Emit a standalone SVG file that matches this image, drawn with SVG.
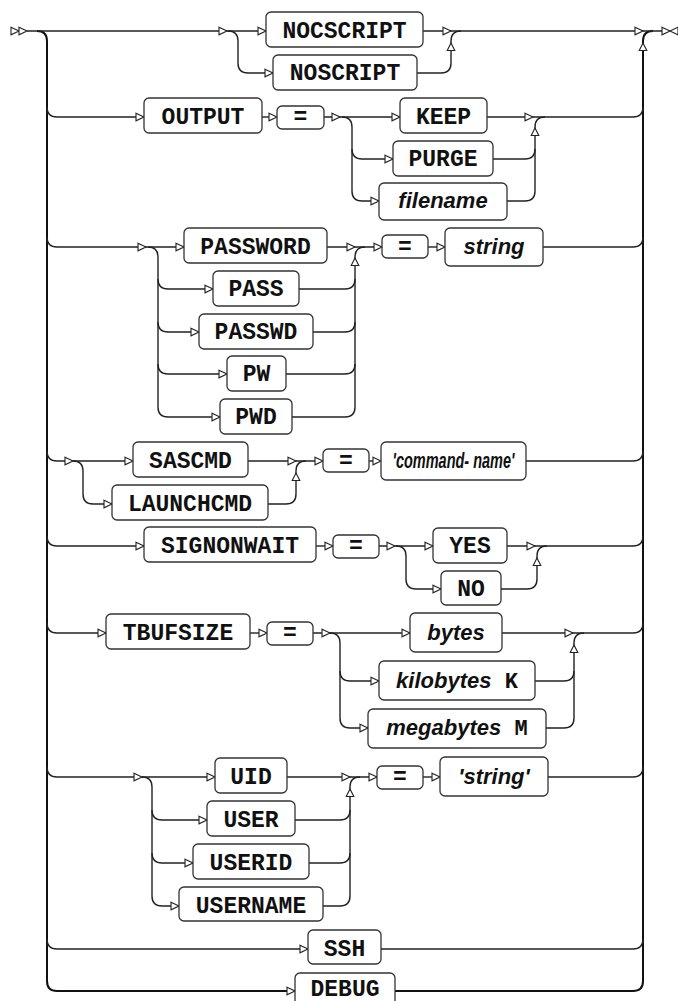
<svg xmlns="http://www.w3.org/2000/svg" xmlns:xlink="http://www.w3.org/1999/xlink" width="678" height="1001" viewBox="0 0 678 1001">
<style>
.c{fill:none;stroke:#222;stroke-width:1.4}
.t{fill:none;stroke:#111;stroke-width:2}
.b{fill:#fff;stroke:#333;stroke-width:1.3}
.k{font-family:"Liberation Mono","Courier New",monospace;font-weight:bold;font-size:23px;fill:#111;text-anchor:middle}
.v{font-family:"Liberation Sans",Arial,sans-serif;font-weight:bold;font-style:italic;font-size:22px;fill:#111;text-anchor:middle}
.m{font-family:"Liberation Mono","Courier New",monospace;font-weight:bold;font-style:normal}
.a{fill:#fff;stroke:#222;stroke-width:1.1}
</style>
<defs>
<path id="ar" class="a" d="M-8,-3.8 L0,0 L-8,3.8 Z"/>
<path id="au" class="a" d="M-3.8,7.5 L0,0 L3.8,7.5 Z"/>
<path id="al" class="a" d="M8,-3.8 L0,0 L8,3.8 Z"/>
</defs>
<g id="connectors">
<path class="t" d="M37,31 Q47,31 47,41 V981 Q47,991 57,991 H295"/>
<path class="t" d="M395,991 H633 Q643,991 643,981 V41 Q643,31 653,31"/>
<path class="c" d="M27,31 H266"/>
<path class="c" d="M228,31 Q238,31 238,41 V63 Q238,73 248,73 H273"/>
<path class="c" d="M423,31 H662"/>
<path class="c" d="M417,73 H441 Q451,73 451,63 V41 Q451,31 461,31"/>
<path class="c" d="M47,107 Q47,117 57,117 H144"/>
<path class="c" d="M262,117 H277"/>
<path class="c" d="M324,117 H400"/>
<path class="c" d="M342,117 Q352,117 352,127 V191 Q352,201 362,201 H379"/>
<path class="c" d="M352,149 Q352,159 362,159 H393"/>
<path class="c" d="M487,117 H633 Q643,117 643,107"/>
<path class="c" d="M493,159 H525 Q535,159 535,149"/>
<path class="c" d="M507,201 H525 Q535,201 535,191 V127 Q535,117 545,117"/>
<path class="c" d="M47,237 Q47,247 57,247 H184"/>
<path class="c" d="M148,247 Q158,247 158,257 V407 Q158,417 168,417 H220"/>
<path class="c" d="M158,279 Q158,289 168,289 H213"/>
<path class="c" d="M158,322 Q158,332 168,332 H199"/>
<path class="c" d="M158,364 Q158,374 168,374 H227"/>
<path class="c" d="M327,247 H382"/>
<path class="c" d="M428,247 H445"/>
<path class="c" d="M543,247 H633 Q643,247 643,237"/>
<path class="c" d="M299,289 H345 Q355,289 355,279"/>
<path class="c" d="M313,332 H345 Q355,332 355,322"/>
<path class="c" d="M286,374 H345 Q355,374 355,364"/>
<path class="c" d="M292,417 H345 Q355,417 355,407 V257 Q355,247 365,247"/>
<path class="c" d="M47,451 Q47,461 57,461 H133"/>
<path class="c" d="M73,461 Q83,461 83,471 V494 Q83,504 93,504 H112"/>
<path class="c" d="M248,461 H323"/>
<path class="c" d="M268,504 H286 Q296,504 296,494 V471 Q296,461 306,461"/>
<path class="c" d="M369,461 H381"/>
<path class="c" d="M526,461 H633 Q643,461 643,451"/>
<path class="c" d="M47,536 Q47,546 57,546 H144"/>
<path class="c" d="M316,546 H333"/>
<path class="c" d="M379,546 H433"/>
<path class="c" d="M396,546 Q406,546 406,556 V579 Q406,589 416,589 H441"/>
<path class="c" d="M507,546 H633 Q643,546 643,536"/>
<path class="c" d="M501,589 H527 Q537,589 537,579 V556 Q537,546 547,546"/>
<path class="c" d="M47,623 Q47,633 57,633 H106"/>
<path class="c" d="M250,633 H267"/>
<path class="c" d="M313,633 H410"/>
<path class="c" d="M330,633 Q340,633 340,643 V718 Q340,728 350,728 H368"/>
<path class="c" d="M340,671 Q340,681 350,681 H379"/>
<path class="c" d="M502,633 H633 Q643,633 643,623"/>
<path class="c" d="M535,681 H564 Q574,681 574,671"/>
<path class="c" d="M546,728 H564 Q574,728 574,718 V643 Q574,633 584,633"/>
<path class="c" d="M47,767 Q47,777 57,777 H215"/>
<path class="c" d="M142,777 Q152,777 152,787 V896 Q152,906 162,906 H179"/>
<path class="c" d="M152,810 Q152,820 162,820 H207"/>
<path class="c" d="M152,853 Q152,863 162,863 H193"/>
<path class="c" d="M287,777 H377"/>
<path class="c" d="M423,777 H440"/>
<path class="c" d="M548,777 H633 Q643,777 643,767"/>
<path class="c" d="M295,820 H340 Q350,820 350,810"/>
<path class="c" d="M309,863 H340 Q350,863 350,853"/>
<path class="c" d="M323,906 H340 Q350,906 350,896 V787 Q350,777 360,777"/>
<path class="c" d="M47,939 Q47,949 57,949 H308"/>
<path class="c" d="M381,949 H633 Q643,949 643,939"/>
</g>
<g id="arrows">
<use xlink:href="#ar" x="19" y="31"/><use xlink:href="#ar" x="27" y="31"/>
<use xlink:href="#ar" x="670" y="31"/><use xlink:href="#al" x="670" y="31"/>
<use xlink:href="#ar" x="227" y="31"/><use xlink:href="#ar" x="266" y="31"/><use xlink:href="#ar" x="273" y="73"/>
<use xlink:href="#ar" x="451" y="31"/><use xlink:href="#au" x="451" y="43"/>
<use xlink:href="#ar" x="643" y="31"/><use xlink:href="#au" x="643" y="43"/>
<use xlink:href="#ar" x="144" y="117"/><use xlink:href="#ar" x="277" y="117"/><use xlink:href="#ar" x="340" y="117"/>
<use xlink:href="#ar" x="400" y="117"/><use xlink:href="#ar" x="393" y="159"/><use xlink:href="#ar" x="379" y="201"/>
<use xlink:href="#ar" x="533" y="117"/><use xlink:href="#au" x="535" y="128"/>
<use xlink:href="#ar" x="146" y="247"/><use xlink:href="#ar" x="184" y="247"/><use xlink:href="#ar" x="213" y="289"/>
<use xlink:href="#ar" x="199" y="332"/><use xlink:href="#ar" x="227" y="374"/><use xlink:href="#ar" x="220" y="417"/>
<use xlink:href="#ar" x="355" y="247"/><use xlink:href="#au" x="355" y="258"/><use xlink:href="#ar" x="382" y="247"/><use xlink:href="#ar" x="445" y="247"/>
<use xlink:href="#ar" x="73" y="461"/><use xlink:href="#ar" x="133" y="461"/><use xlink:href="#ar" x="112" y="504"/>
<use xlink:href="#ar" x="296" y="461"/><use xlink:href="#au" x="296" y="473"/><use xlink:href="#ar" x="323" y="461"/><use xlink:href="#ar" x="381" y="461"/>
<use xlink:href="#ar" x="144" y="546"/><use xlink:href="#ar" x="333" y="546"/><use xlink:href="#ar" x="395" y="546"/>
<use xlink:href="#ar" x="433" y="546"/><use xlink:href="#ar" x="441" y="589"/><use xlink:href="#ar" x="535" y="546"/><use xlink:href="#au" x="537" y="558"/>
<use xlink:href="#ar" x="106" y="633"/><use xlink:href="#ar" x="267" y="633"/><use xlink:href="#ar" x="330" y="633"/>
<use xlink:href="#ar" x="410" y="633"/><use xlink:href="#ar" x="379" y="681"/><use xlink:href="#ar" x="368" y="728"/>
<use xlink:href="#ar" x="573" y="633"/><use xlink:href="#au" x="574" y="645"/>
<use xlink:href="#ar" x="142" y="777"/><use xlink:href="#ar" x="215" y="777"/><use xlink:href="#ar" x="207" y="820"/>
<use xlink:href="#ar" x="193" y="863"/><use xlink:href="#ar" x="179" y="906"/>
<use xlink:href="#ar" x="350" y="777"/><use xlink:href="#au" x="350" y="789"/><use xlink:href="#ar" x="377" y="777"/><use xlink:href="#ar" x="440" y="777"/>
<use xlink:href="#ar" x="308" y="949"/><use xlink:href="#ar" x="295" y="991"/>
</g>
<g id="n-nocscript"><rect class="b" x="266" y="12" width="157" height="35" rx="5"/><text class="k" x="344.5" y="38">NOCSCRIPT</text></g>
<g id="n-noscript"><rect class="b" x="273" y="55" width="144" height="35" rx="5"/><text class="k" x="345" y="80">NOSCRIPT</text></g>
<g id="n-output"><rect class="b" x="144" y="98" width="118" height="35" rx="5"/><text class="k" x="203" y="124">OUTPUT</text></g>
<g id="n-eq1"><rect class="b" x="277" y="106" width="47" height="23" rx="5"/><text class="k" x="300.5" y="124">=</text></g>
<g id="n-keep"><rect class="b" x="400" y="98" width="87" height="35" rx="5"/><text class="k" x="443.5" y="124">KEEP</text></g>
<g id="n-purge"><rect class="b" x="393" y="141" width="100" height="35" rx="5"/><text class="k" x="443" y="166">PURGE</text></g>
<g id="n-filename"><rect class="b" x="379" y="183" width="128" height="37" rx="5"/><text class="v" x="443" y="208">filename</text></g>
<g id="n-password"><rect class="b" x="184" y="228" width="143" height="35" rx="5"/><text class="k" x="255.5" y="254">PASSWORD</text></g>
<g id="n-pass"><rect class="b" x="213" y="271" width="86" height="35" rx="5"/><text class="k" x="256" y="296">PASS</text></g>
<g id="n-passwd"><rect class="b" x="199" y="314" width="114" height="35" rx="5"/><text class="k" x="256" y="339">PASSWD</text></g>
<g id="n-pw"><rect class="b" x="227" y="356" width="59" height="35" rx="5"/><text class="k" x="256.5" y="381">PW</text></g>
<g id="n-pwd"><rect class="b" x="220" y="399" width="72" height="35" rx="5"/><text class="k" x="256" y="424">PWD</text></g>
<g id="n-eq2"><rect class="b" x="382" y="235" width="46" height="23" rx="5"/><text class="k" x="405" y="254">=</text></g>
<g id="n-string"><rect class="b" x="445" y="228" width="98" height="38" rx="5"/><text class="v" x="494" y="254">string</text></g>
<g id="n-sascmd"><rect class="b" x="133" y="442" width="115" height="35" rx="5"/><text class="k" x="190.5" y="468">SASCMD</text></g>
<g id="n-launchcmd"><rect class="b" x="112" y="485" width="156" height="35" rx="5"/><text class="k" x="190" y="511">LAUNCHCMD</text></g>
<g id="n-eq3"><rect class="b" x="323" y="449" width="46" height="23" rx="5"/><text class="k" x="346" y="468">=</text></g>
<g id="n-command"><rect class="b" x="381" y="442" width="145" height="38" rx="5"/><text class="v" x="453.5" y="468" textLength="122" lengthAdjust="spacingAndGlyphs">'command- name'</text></g>
<g id="n-signonwait"><rect class="b" x="144" y="527" width="172" height="35" rx="5"/><text class="k" x="230" y="553">SIGNONWAIT</text></g>
<g id="n-eq4"><rect class="b" x="333" y="535" width="46" height="23" rx="5"/><text class="k" x="356" y="553">=</text></g>
<g id="n-yes"><rect class="b" x="433" y="528" width="74" height="35" rx="5"/><text class="k" x="470" y="553">YES</text></g>
<g id="n-no"><rect class="b" x="441" y="571" width="60" height="34" rx="5"/><text class="k" x="471" y="596">NO</text></g>
<g id="n-tbufsize"><rect class="b" x="106" y="614" width="144" height="35" rx="5"/><text class="k" x="178" y="640">TBUFSIZE</text></g>
<g id="n-eq5"><rect class="b" x="267" y="622" width="46" height="23" rx="5"/><text class="k" x="290" y="640">=</text></g>
<g id="n-bytes"><rect class="b" x="410" y="613" width="92" height="39" rx="5"/><text class="v" x="456" y="640">bytes</text></g>
<g id="n-kilobytes"><rect class="b" x="379" y="661" width="156" height="39" rx="5"/><text class="v" x="457" y="688">kilobytes<tspan class="m"> K</tspan></text></g>
<g id="n-megabytes"><rect class="b" x="368" y="709" width="178" height="39" rx="5"/><text class="v" x="457" y="735">megabytes<tspan class="m"> M</tspan></text></g>
<g id="n-uid"><rect class="b" x="215" y="758" width="72" height="35" rx="5"/><text class="k" x="251" y="784">UID</text></g>
<g id="n-user"><rect class="b" x="207" y="801" width="88" height="35" rx="5"/><text class="k" x="251" y="827">USER</text></g>
<g id="n-userid"><rect class="b" x="193" y="844" width="116" height="35" rx="5"/><text class="k" x="251" y="870">USERID</text></g>
<g id="n-username"><rect class="b" x="179" y="887" width="144" height="34" rx="5"/><text class="k" x="251" y="913">USERNAME</text></g>
<g id="n-eq6"><rect class="b" x="377" y="766" width="46" height="23" rx="5"/><text class="k" x="400" y="784">=</text></g>
<g id="n-qstring"><rect class="b" x="440" y="757" width="108" height="39" rx="5"/><text class="v" x="494" y="784">'string'</text></g>
<g id="n-ssh"><rect class="b" x="308" y="930" width="73" height="34" rx="5"/><text class="k" x="344.5" y="956">SSH</text></g>
<g id="n-debug"><rect class="b" x="295" y="973" width="100" height="35" rx="5"/><text class="k" x="345" y="996">DEBUG</text></g>
</svg>
